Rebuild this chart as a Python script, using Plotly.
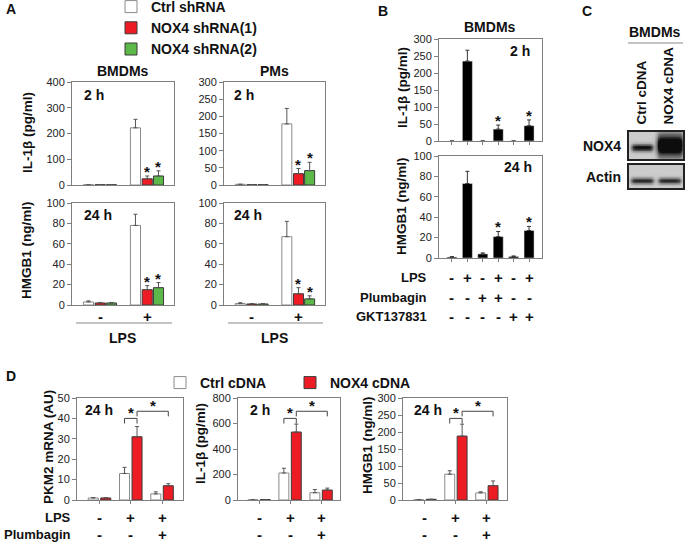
import numpy as np
import plotly.graph_objects as go

W, H = 685, 542
FONT = "Liberation Sans, Arial, Helvetica, sans-serif"

# ---------------- Panel A data ----------------
a_groups = ["-", "+"]
a_series = ["Ctrl shRNA", "NOX4 shRNA(1)", "NOX4 shRNA(2)"]
a_bmdm_il1b = [[1, 222], [1, 24], [1, 35]]
a_bmdm_il1b_err = [[0, 33], [0, 11], [0, 20]]
a_pm_il1b = [[2, 178], [1, 33], [1, 42]]
a_pm_il1b_err = [[0, 45], [0, 15], [0, 24]]
a_bmdm_hmgb1 = [[3, 78], [2, 15], [2, 17]]
a_bmdm_hmgb1_err = [[1, 11], [0.5, 4], [0.5, 5]]
a_pm_hmgb1 = [[1.5, 67], [1, 11], [1, 6]]
a_pm_hmgb1_err = [[0.7, 15], [0.5, 6], [0.5, 3]]
a_stars = [[0, 0], [0, 1], [0, 1]]

# ---------------- Panel B data ----------------
b_lps = ["-", "+", "-", "+", "-", "+"]
b_plumbagin = ["-", "-", "+", "+", "-", "-"]
b_gkt = ["-", "-", "-", "-", "+", "+"]
b_il1b = [0, 235, 0, 35, 0, 45]
b_il1b_err = [0, 32, 0, 12, 0, 17]
b_hmgb1 = [1, 73, 4, 21, 1.5, 27]
b_hmgb1_err = [0.3, 12, 1, 5, 0.5, 4]
b_stars = [0, 0, 0, 1, 0, 1]

# ---------------- Panel C data (blot) ----------------
c_lanes = ["Ctrl cDNA", "NOX4 cDNA"]
c_nox4_intensity = [0.9, 1.25]
c_nox4_halfheight = [0.13, 0.40]
c_nox4_center = [0.42, 0.50]
c_actin_intensity = [0.75, 0.75]
c_actin_halfheight = [0.13, 0.13]
c_actin_center = [0.32, 0.32]

# ---------------- Panel D data ----------------
d_series = ["Ctrl cDNA", "NOX4 cDNA"]
d_lps = ["-", "+", "+"]
d_plumbagin = ["-", "-", "+"]
d_pkm2 = [[1, 13, 3], [1, 31, 7]]
d_pkm2_err = [[0.2, 3, 1], [0.2, 5, 1]]
d_il1b = [[2, 212, 57], [3, 533, 78]]
d_il1b_err = [[0, 37, 25], [0, 62, 15]]
d_hmgb1 = [[1, 76, 21], [2, 188, 42]]
d_hmgb1_err = [[0, 10, 3], [0, 35, 14]]

# ---------------- styles ----------------
A_FILL = ["#ffffff", "#ed1c24", "#5cb848"]
A_EDGE = ["#8a8a8a", "#3a3a3a", "#3a3a3a"]
D_FILL = ["#ffffff", "#ed1c24"]
D_EDGE = ["#8a8a8a", "#3a3a3a"]


def xd(x0, x1):
    return [x0 / W, x1 / W]


def yd(y0, y1):
    return [1 - y1 / H, 1 - y0 / H]


def py(p):
    return 1 - p / H


def px(p):
    return p / W


axes = {
    1: dict(x=(72, 174), y=(82, 185), yr=[0, 400], dt=100, xr=[-0.6, 1.57]),
    2: dict(x=(224, 325), y=(82, 185), yr=[0, 300], dt=50, xr=[-0.6, 1.57]),
    3: dict(x=(72, 174), y=(203, 305), yr=[0, 100], dt=20, xr=[-0.6, 1.57]),
    4: dict(x=(224, 325), y=(203, 305), yr=[0, 100], dt=20, xr=[-0.6, 1.57]),
    5: dict(x=(439, 542), y=(39, 141), yr=[0, 300], dt=50, xr=[-0.84, 5.84]),
    6: dict(x=(439, 542), y=(156, 258), yr=[0, 100], dt=20, xr=[-0.84, 5.84]),
    9: dict(x=(77, 183), y=(398, 500), yr=[0, 50], dt=10, xr=[-0.72, 2.67]),
    10: dict(x=(238, 340), y=(398, 500), yr=[0, 800], dt=200, xr=[-0.68, 2.61]),
    11: dict(x=(403, 507), y=(398, 500), yr=[0, 300], dt=50, xr=[-0.71, 2.65]),
}
blots = {7: dict(x=(629, 683), y=(132, 159)), 8: dict(x=(629, 683), y=(165, 188))}

layout = dict(
    width=W, height=H, margin=dict(l=0, r=0, t=0, b=0, autoexpand=False), autosize=False,
    paper_bgcolor="white", plot_bgcolor="white", barmode="overlay",
    font=dict(family=FONT, color="#111"),
)

for n, a in axes.items():
    s = "" if n == 1 else str(n)
    layout["xaxis" + s] = dict(
        domain=xd(*a["x"]), range=a["xr"], anchor="y" + s, showline=True, mirror=True,
        linecolor="#7f7f7f", linewidth=1, showgrid=False, zeroline=False,
        showticklabels=False, ticks="", fixedrange=True,
    )
    layout["yaxis" + s] = dict(
        domain=yd(*a["y"]), range=a["yr"], dtick=a["dt"], tick0=0, anchor="x" + s,
        showline=True, mirror=True, linecolor="#7f7f7f", linewidth=1, showgrid=False,
        zeroline=False, ticks="outside", ticklen=4, tickcolor="#7f7f7f",
        tickfont=dict(family=FONT, size=11, color="#222"), fixedrange=True,
    )
for n, a in blots.items():
    s = str(n)
    layout["xaxis" + s] = dict(domain=xd(*a["x"]), range=[0, 2], anchor="y" + s, showline=True,
                               mirror=True, linecolor="#222", linewidth=1.5, showgrid=False,
                               zeroline=False, showticklabels=False, ticks="", fixedrange=True)
    layout["yaxis" + s] = dict(domain=yd(*a["y"]), range=[0, 1], anchor="x" + s, showline=True,
                               mirror=True, linecolor="#222", linewidth=1.5, showgrid=False,
                               zeroline=False, showticklabels=False, ticks="", fixedrange=True)

# small category ticks on B and D
for n in (5, 6):
    s = str(n)
    layout["xaxis" + s].update(ticks="outside", ticklen=3, tickcolor="#7f7f7f",
                               tickvals=list(range(len(b_lps))))
for n in (9, 10, 11):
    s = str(n)
    layout["xaxis" + s].update(ticks="outside", ticklen=3, tickcolor="#7f7f7f",
                               tickvals=list(range(len(d_lps))))

fig = go.Figure()
annotations = []
shapes = []


def ann(text, x, y, xref="paper", yref="paper", size=14, xanchor="center", yanchor="middle",
        angle=0, bold=True, xshift=0, yshift=0, color="#111"):
    annotations.append(dict(
        text=("<b>%s</b>" % text) if bold else text, x=x, y=y, xref=xref, yref=yref,
        showarrow=False, xanchor=xanchor, yanchor=yanchor, textangle=angle,
        font=dict(family=FONT, size=size, color=color), xshift=xshift, yshift=yshift,
    ))


def add_group(n, values, errs, fills, edges, shifts, width, names, legend=None, stars=None):
    s = "" if n == 1 else str(n)
    for i, (vals, er) in enumerate(zip(values, errs)):
        xs = [g + shifts[i] for g in range(len(vals))]
        fig.add_trace(go.Bar(
            x=xs, y=vals, width=width, name=names[i],
            marker=dict(color=fills[i], line=dict(color=edges[i], width=1)),
            error_y=dict(type="data", symmetric=False, array=er, arrayminus=[0] * len(er),
                         color="#555", thickness=1, width=2),
            xaxis="x" + s, yaxis="y" + s,
            showlegend=legend is not None, legend=legend or "legend",
        ))
        if stars is not None:
            for g, flag in enumerate(stars[i]):
                if flag:
                    ann("*", xs[g], vals[g] + er[g], xref="x" + s, yref="y" + s, size=15,
                        yanchor="bottom", yshift=-6)


# ---------- Panel A ----------
A_SHIFT = [-0.25, 0.0, 0.24]
A_W = 0.215
add_group(1, a_bmdm_il1b, a_bmdm_il1b_err, A_FILL, A_EDGE, A_SHIFT, A_W, a_series, "legend", a_stars)
add_group(2, a_pm_il1b, a_pm_il1b_err, A_FILL, A_EDGE, A_SHIFT, A_W, a_series, None, a_stars)
add_group(3, a_bmdm_hmgb1, a_bmdm_hmgb1_err, A_FILL, A_EDGE, A_SHIFT, A_W, a_series, None, a_stars)
add_group(4, a_pm_hmgb1, a_pm_hmgb1_err, A_FILL, A_EDGE, A_SHIFT, A_W, a_series, None, a_stars)

ann("A", px(4), py(9), xanchor="left", size=14)
ann("BMDMs", 0.5, 1, xref="x domain", yref="y domain", yanchor="bottom", yshift=1)
ann("PMs", 0.5, 1, xref="x2 domain", yref="y2 domain", yanchor="bottom", yshift=1)
ann("2 h", 0.1, 0.87, xref="x domain", yref="y domain", xanchor="left")
ann("2 h", 0.08, 0.87, xref="x2 domain", yref="y2 domain", xanchor="left")
ann("24 h", 0.1, 0.88, xref="x3 domain", yref="y3 domain", xanchor="left")
ann("24 h", 0.08, 0.88, xref="x4 domain", yref="y4 domain", xanchor="left")
ann("IL-1β (pg/ml)", px(27), py(133), size=13.5, angle=-90)
ann("HMGB1 (ng/ml)", px(27), py(250), size=13.5, angle=-90)
for n in (3, 4):
    for g, lab in enumerate(a_groups):
        ann(lab, g, py(316), xref="x%d" % n, size=15)
    shapes.append(dict(type="line", xref="x%d domain" % n, yref="paper", x0=0.04, x1=0.98,
                       y0=py(323), y1=py(323), line=dict(color="#888", width=1)))
    ann("LPS", 0.5, py(338), xref="x%d domain" % n, size=14)

# ---------- Panel B ----------
fig.add_trace(go.Bar(x=list(range(len(b_il1b))), y=b_il1b, width=0.65, marker=dict(color="black"),
                     error_y=dict(type="data", symmetric=False, array=b_il1b_err,
                                  arrayminus=[0] * len(b_il1b), color="#333", thickness=1, width=2),
                     xaxis="x5", yaxis="y5", showlegend=False))
fig.add_trace(go.Bar(x=list(range(len(b_hmgb1))), y=b_hmgb1, width=0.65, marker=dict(color="black"),
                     error_y=dict(type="data", symmetric=False, array=b_hmgb1_err,
                                  arrayminus=[0] * len(b_hmgb1), color="#333", thickness=1, width=2),
                     xaxis="x6", yaxis="y6", showlegend=False))
for i, flag in enumerate(b_stars):
    if flag:
        ann("*", i, b_il1b[i] + b_il1b_err[i], xref="x5", yref="y5", size=15, yanchor="bottom", yshift=-6)
        ann("*", i, b_hmgb1[i] + b_hmgb1_err[i], xref="x6", yref="y6", size=15, yanchor="bottom", yshift=-6)
ann("B", px(376), py(11), xanchor="left")
ann("BMDMs", 0.5, 1, xref="x5 domain", yref="y5 domain", yanchor="bottom", yshift=2)
ann("2 h", 0.9, 0.88, xref="x5 domain", yref="y5 domain", xanchor="right")
ann("24 h", 0.92, 0.89, xref="x6 domain", yref="y6 domain", xanchor="right")
ann("IL-1β (pg/ml)", px(402), py(88), size=13.5, angle=-90)
ann("HMGB1 (ng/ml)", px(402), py(206), size=13.5, angle=-90)
for row_y, (label, signs) in zip((277, 297, 316), (("LPS", b_lps), ("Plumbagin", b_plumbagin),
                                                   ("GKT137831", b_gkt))):
    ann(label, px(429), py(row_y), xanchor="right", size=13)
    for i, sg in enumerate(signs):
        ann(sg, i, py(row_y), xref="x6", size=15)

# ---------- Panel C ----------
ny, nx = 40, 80
gy = np.linspace(0, 1, ny)
gx = np.linspace(0, 2, nx)


def lane_profile(x, lane, a, b, soft=0.04):
    return 1 / (1 + np.exp(-(x - (lane + a)) / soft)) * 1 / (1 + np.exp((x - (lane + b)) / soft))


def blot(intensity, halfh, center, extents):
    z = np.full((ny, nx), 0.12)
    for lane in range(len(intensity)):
        a, b = extents[lane]
        z += intensity[lane] * np.exp(-((gy - center[lane]) / halfh[lane]) ** 2)[:, None] * \
            lane_profile(gx, lane, a, b)[None, :]
    return np.clip(z, 0, 1)


gray = [[0, "#e6e6e6"], [0.5, "#7a7a7a"], [1, "#0d0d0d"]]
fig.add_trace(go.Heatmap(z=blot(c_nox4_intensity, c_nox4_halfheight, c_nox4_center,
                                [(0.12, 0.88), (0.05, 0.98)]),
                         x=gx, y=gy, zmin=0, zmax=1, colorscale=gray, showscale=False,
                         xaxis="x7", yaxis="y7", hoverinfo="skip"))
fig.add_trace(go.Heatmap(z=blot(c_actin_intensity, c_actin_halfheight, c_actin_center,
                                [(0.1, 0.9), (0.1, 0.9)]),
                         x=gx, y=gy, zmin=0, zmax=1, colorscale=gray, showscale=False,
                         xaxis="x8", yaxis="y8", hoverinfo="skip"))
ann("C", px(580), py(11), xanchor="left")
ann("BMDMs", px(655), py(32))
shapes.append(dict(type="line", xref="x7 domain", yref="paper", x0=-0.02, x1=1.0,
                   y0=py(43), y1=py(43), line=dict(color="#888", width=1)))
for i, lab in enumerate(c_lanes):
    ann(lab, i + 0.5, py(127), xref="x7", size=13.5, angle=-90, yanchor="bottom", xshift=-2)
ann("NOX4", px(623), 0.5, yref="y7 domain", xanchor="right")
ann("Actin", px(623), 0.5, yref="y8 domain", xanchor="right")

# ---------- Panel D ----------
D_SHIFT = [-0.2, 0.2]
D_W = 0.32
add_group(9, d_pkm2, d_pkm2_err, D_FILL, D_EDGE, D_SHIFT, D_W, d_series, "legend2")
add_group(10, d_il1b, d_il1b_err, D_FILL, D_EDGE, D_SHIFT, D_W, d_series)
add_group(11, d_hmgb1, d_hmgb1_err, D_FILL, D_EDGE, D_SHIFT, D_W, d_series)

for n, vals in ((9, d_pkm2), (10, d_il1b), (11, d_hmgb1)):
    top = axes[n]["yr"][1]
    s = str(n)
    brackets = [((1 + D_SHIFT[0], 1 + D_SHIFT[1]), 0.80), ((1 + D_SHIFT[1], 2 + D_SHIFT[1]), 0.87)]
    for (x0, x1), frac in brackets:
        yt = frac * top
        yb = (frac - 0.05) * top
        fig.add_trace(go.Scatter(x=[x0, x0, x1, x1], y=[yb, yt, yt, yb], mode="lines",
                                 line=dict(color="#444", width=1), xaxis="x" + s, yaxis="y" + s,
                                 showlegend=False, hoverinfo="skip"))
        ann("*", (x0 + x1) / 2, yt, xref="x" + s, yref="y" + s, size=15, yanchor="bottom", yshift=-5)

ann("D", px(4), py(376), xanchor="left")
ann("24 h", 0.06, 0.88, xref="x9 domain", yref="y9 domain", xanchor="left")
ann("2 h", 0.1, 0.88, xref="x10 domain", yref="y10 domain", xanchor="left")
ann("24 h", 0.09, 0.88, xref="x11 domain", yref="y11 domain", xanchor="left")
ann("PKM2 mRNA (AU)", px(48), py(447), size=13.5, angle=-90)
ann("IL-1β (pg/ml)", px(200), py(443), size=13.5, angle=-90)
ann("HMGB1 (ng/ml)", px(367), py(445), size=13.5, angle=-90)
for row_y, (label, signs) in zip((517, 534), (("LPS", d_lps), ("Plumbagin", d_plumbagin))):
    ann(label, px(73), py(row_y), xanchor="right", size=13)
    for n in (9, 10, 11):
        for i, sg in enumerate(signs):
            ann(sg, i, py(row_y), xref="x%d" % n, size=15)

layout["annotations"] = annotations
layout["shapes"] = shapes
layout["legend"] = dict(x=px(111), y=py(-9), xanchor="left", yanchor="top", orientation="v",
                        bgcolor="rgba(0,0,0,0)", tracegroupgap=0,
                        font=dict(family=FONT, size=14, color="#111", weight="bold"))
layout["legend2"] = dict(x=px(160), y=py(367), xanchor="left", yanchor="top", orientation="h",
                         bgcolor="rgba(0,0,0,0)", entrywidth=85,
                         font=dict(family=FONT, size=14, color="#111", weight="bold"))
fig.update_layout(**layout)
fig.write_html("out.html", config={"displayModeBar": False},
               post_script="document.body.style.margin='0px';")
